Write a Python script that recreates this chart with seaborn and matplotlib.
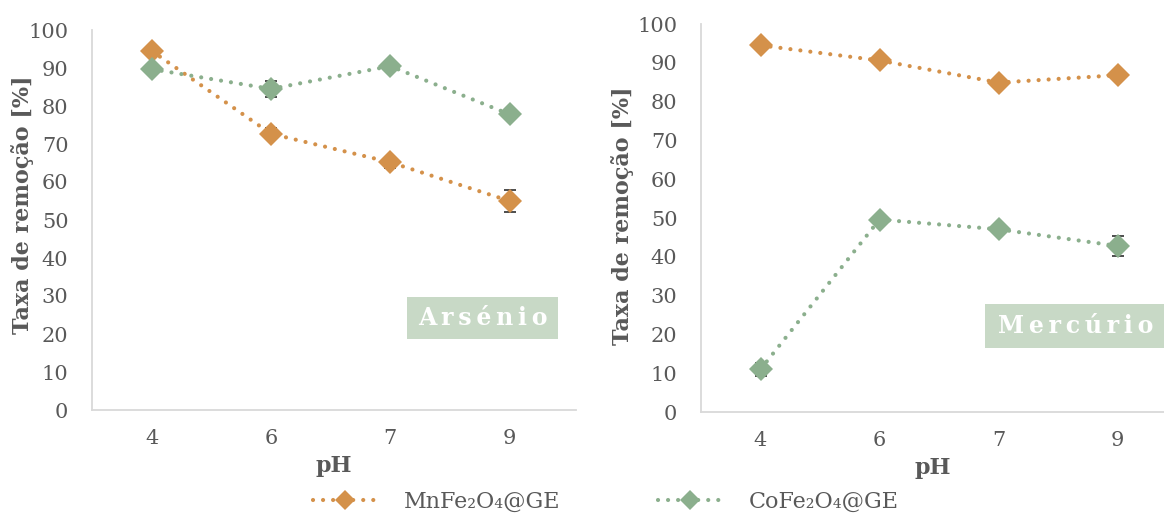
import numpy as np
import pandas as pd
import matplotlib
matplotlib.use("Agg")
import matplotlib.pyplot as plt
from matplotlib.lines import Line2D
from matplotlib.patches import Rectangle
import seaborn as sns

ph_labels = ["4", "6", "7", "9"]
materials = ["MnFe₂O₄@GE", "CoFe₂O₄@GE"]

arsenio_mn = [94.5, 72.7, 65.2, 55.0]
arsenio_mn_err = [0.0, 1.4, 1.5, 3.0]
arsenio_co = [89.7, 84.5, 90.5, 77.8]
arsenio_co_err = [0.0, 2.0, 0.0, 0.0]

mercurio_mn = [94.5, 90.6, 84.9, 86.8]
mercurio_mn_err = [0.0, 0.0, 0.0, 0.0]
mercurio_co = [11.0, 49.6, 47.1, 42.8]
mercurio_co_err = [1.6, 0.0, 0.0, 2.5]

colors = {"MnFe₂O₄@GE": "#D4914A", "CoFe₂O₄@GE": "#8BAF8D"}
text_gray = "#595959"
spine_gray = "#D9D9D9"
tag_bg = "#C8D9C6"
dots = (0, (0.01, 2.4))

sns.set_theme(style="white")
plt.rcParams["font.family"] = ["DejaVu Serif", "DejaVu Sans"]

W, H = 1164, 513
fig = plt.figure(figsize=(W / 100, H / 100), dpi=100)


def fig_box(x0, y0, x1, y1):
    """Pixel box (top-left origin) to figure fraction rect."""
    return [x0 / W, 1 - y1 / H, (x1 - x0) / W, (y1 - y0) / H]


ax1 = fig.add_axes(fig_box(92, 30, 576, 410))
ax2 = fig.add_axes(fig_box(701, 24, 1164, 412))


def panel(ax, mn, mn_err, co, co_err, step, label_right_px, label_mid_px):
    df = pd.DataFrame({
        "pos": list(range(4)) * 2,
        "rate": mn + co,
        "material": [materials[0]] * 4 + [materials[1]] * 4,
    })
    sns.lineplot(data=df, x="pos", y="rate", hue="material", palette=colors,
                 marker="D", markersize=12, markeredgewidth=0, linewidth=3,
                 linestyle=dots, dash_capstyle="round",
                 legend=False, ax=ax, zorder=3)
    for vals, errs in ((mn, mn_err), (co, co_err)):
        e = np.array(errs)
        idx = np.where(e > 0)[0]
        ax.errorbar(idx, np.array(vals)[idx], yerr=e[idx], fmt="none",
                    ecolor="#404040", elinewidth=1.3, capsize=4.5, capthick=1.3,
                    zorder=2)
    pos = ax.get_position()
    x0_px, w_px = pos.x0 * W, pos.width * W
    y1_px, h_px = (1 - pos.y1) * H, pos.height * H
    ax.set_xlim(-0.5, -0.5 + w_px / step)
    ax.set_ylim(0, 100)
    ax.set_xticks(range(4))
    ax.set_xticklabels(ph_labels)
    ax.set_yticks(range(0, 101, 10))
    ax.tick_params(axis="both", length=0, labelsize=15, labelcolor=text_gray)
    ax.tick_params(axis="x", pad=14)
    ax.tick_params(axis="y", pad=17)
    for s in ("top", "right"):
        ax.spines[s].set_visible(False)
    for s in ("left", "bottom"):
        ax.spines[s].set_color(spine_gray)
        ax.spines[s].set_linewidth(1.3)
    ax.set_xlabel("pH", fontsize=16, fontweight="bold", color=text_gray, labelpad=5)
    ax.set_ylabel("Taxa de remoção [%]", fontsize=16, fontweight="bold",
                  color=text_gray)
    ax.yaxis.set_label_coords((label_right_px - x0_px) / w_px,
                              1 - (label_mid_px - y1_px) / h_px)


def tag(text, x0, y0, x1, y1):
    fig.patches.append(Rectangle((x0 / W, 1 - y1 / H), (x1 - x0) / W, (y1 - y0) / H,
                                 transform=fig.transFigure, fc=tag_bg, ec="none",
                                 zorder=5))
    fig.text((x0 + x1) / 2 / W, 1 - (y0 + y1) / 2 / H, "\u2009".join(text),
             ha="center", va="center", fontsize=17, fontweight="bold",
             color="white", zorder=6)


panel(ax1, arsenio_mn, arsenio_mn_err, arsenio_co, arsenio_co_err, 119.3, 34, 205)
panel(ax2, mercurio_mn, mercurio_mn_err, mercurio_co, mercurio_co_err, 119.0, 634, 216)

tag("Arsénio", 407, 297, 558, 339)
tag("Mercúrio", 985, 304, 1167, 348)

handles = [Line2D([], [], color=colors[m], marker="D", markersize=10,
                  markeredgewidth=0, linewidth=3, linestyle=dots,
                  dash_capstyle="round") for m in materials]
fig.legend(handles, materials, loc="center", bbox_to_anchor=(606 / W, 1 - 502 / H),
           ncol=2, frameon=False, fontsize=16, handlelength=2.9,
           handletextpad=1.2, columnspacing=4.4, labelcolor=text_gray)

fig.savefig("out.png", dpi=100)
